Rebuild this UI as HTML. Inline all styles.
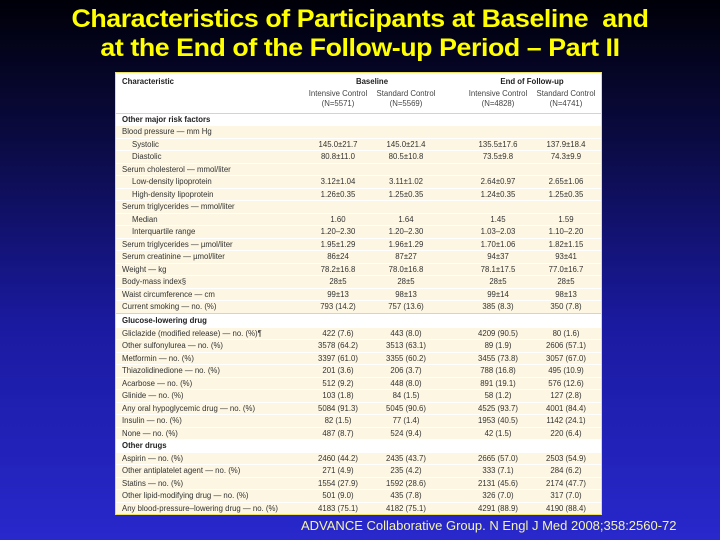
<!DOCTYPE html>
<html><head><meta charset="utf-8"><style>
html,body{margin:0;padding:0}
body{width:720px;height:540px;position:relative;overflow:hidden;background:linear-gradient(to bottom,#000008 0%,#0a0a40 25%,#1a1aa0 60%,#2828cc 100%);font-family:"Liberation Sans",sans-serif}
.t{position:absolute;left:0;width:720px;text-align:center;color:#ffff00;font-weight:bold;font-size:25px;letter-spacing:-0.4px;transform:scaleX(1.07)}
#box{position:absolute;left:115px;top:72px;width:485px;height:441px;background:#fff;border:1px solid #f0e060;font-size:7.8px;color:#333;overflow:hidden}
.row{position:absolute;left:0;width:485px;height:11.5px;line-height:11.5px;background:#fcf6e2;white-space:nowrap}
.row.s{background:#fff;font-weight:bold;color:#222}
.row span{position:absolute;top:0}
.l{left:6px}
.i .l{left:16px}
.c{width:90px;text-align:center;margin-left:-45px}
.hl{position:absolute;left:0;width:485px;height:1.5px;background:#f0e040}
.h{position:absolute;text-align:center;width:100px;margin-left:-50px;line-height:10px;color:#444}
.foot{position:absolute;left:301px;top:518px;color:#f4f4b0;font-size:13px;white-space:nowrap}
</style></head><body>
<div class="t" style="top:5px">Characteristics of Participants at Baseline&nbsp; and</div>
<div class="t" style="top:34px">at the End of the Follow-up Period – Part II</div>
<div id="box">
<div style="position:absolute;left:6px;top:4px;font-weight:bold;color:#222">Characteristic</div>
<div class="h" style="left:256px;top:4px;font-weight:bold;color:#222">Baseline</div>
<div class="h" style="left:416px;top:4px;font-weight:bold;color:#222">End of Follow-up</div>
<div class="h" style="left:222px;top:16px">Intensive Control<br>(N=5571)</div>
<div class="h" style="left:290px;top:16px">Standard Control<br>(N=5569)</div>
<div class="h" style="left:382px;top:16px">Intensive Control<br>(N=4828)</div>
<div class="h" style="left:450px;top:16px">Standard Control<br>(N=4741)</div>
<div class="hl" style="top:39.5px"></div>
<div class="hl" style="top:239.5px"></div>
<div id="rows"></div>
</div>
<div class="foot">ADVANCE Collaborative Group. N Engl J Med 2008;358:2560-72</div>
<script>
(function(){
var R=[
["s","Other major risk factors"],
["","Blood pressure — mm Hg"],
["i","Systolic","145.0±21.7","145.0±21.4","135.5±17.6","137.9±18.4"],
["i","Diastolic","80.8±11.0","80.5±10.8","73.5±9.8","74.3±9.9"],
["","Serum cholesterol — mmol/liter"],
["i","Low-density lipoprotein","3.12±1.04","3.11±1.02","2.64±0.97","2.65±1.06"],
["i","High-density lipoprotein","1.26±0.35","1.25±0.35","1.24±0.35","1.25±0.35"],
["","Serum triglycerides — mmol/liter"],
["i","Median","1.60","1.64","1.45","1.59"],
["i","Interquartile range","1.20–2.30","1.20–2.30","1.03–2.03","1.10–2.20"],
["","Serum triglycerides — µmol/liter","1.95±1.29","1.96±1.29","1.70±1.06","1.82±1.15"],
["","Serum creatinine — µmol/liter","86±24","87±27","94±37","93±41"],
["","Weight — kg","78.2±16.8","78.0±16.8","78.1±17.5","77.0±16.7"],
["","Body-mass index§","28±5","28±5","28±5","28±5"],
["","Waist circumference — cm","99±13","98±13","99±14","98±13"],
["","Current smoking — no. (%)","793 (14.2)","757 (13.6)","385 (8.3)","350 (7.8)"],
["s","Glucose-lowering drug"],
["","Gliclazide (modified release) — no. (%)¶","422 (7.6)","443 (8.0)","4209 (90.5)","80 (1.6)"],
["","Other sulfonylurea — no. (%)","3578 (64.2)","3513 (63.1)","89 (1.9)","2606 (57.1)"],
["","Metformin — no. (%)","3397 (61.0)","3355 (60.2)","3455 (73.8)","3057 (67.0)"],
["","Thiazolidinedione — no. (%)","201 (3.6)","206 (3.7)","788 (16.8)","495 (10.9)"],
["","Acarbose — no. (%)","512 (9.2)","448 (8.0)","891 (19.1)","576 (12.6)"],
["","Glinide — no. (%)","103 (1.8)","84 (1.5)","58 (1.2)","127 (2.8)"],
["","Any oral hypoglycemic drug — no. (%)","5084 (91.3)","5045 (90.6)","4525 (93.7)","4001 (84.4)"],
["","Insulin — no. (%)","82 (1.5)","77 (1.4)","1953 (40.5)","1142 (24.1)"],
["","None — no. (%)","487 (8.7)","524 (9.4)","42 (1.5)","220 (6.4)"],
["s","Other drugs"],
["","Aspirin — no. (%)","2460 (44.2)","2435 (43.7)","2665 (57.0)","2503 (54.9)"],
["","Other antiplatelet agent — no. (%)","271 (4.9)","235 (4.2)","333 (7.1)","284 (6.2)"],
["","Statins — no. (%)","1554 (27.9)","1592 (28.6)","2131 (45.6)","2174 (47.7)"],
["","Other lipid-modifying drug — no. (%)","501 (9.0)","435 (7.8)","326 (7.0)","317 (7.0)"],
["","Any blood-pressure–lowering drug — no. (%)","4183 (75.1)","4182 (75.1)","4291 (88.9)","4190 (88.4)"]];
var X=[222,290,382,450],h="";
for(var k=0;k<R.length;k++){var r=R[k],yy=40+k*12.5+(k>=16?1.5:0);
h+='<div class="row '+r[0]+'" style="top:'+(yy+0.5)+'px"><span class="l">'+r[1]+'</span>';
for(var j=0;j<4;j++)if(r[j+2])h+='<span class="c" style="left:'+X[j]+'px">'+r[j+2]+'</span>';
h+='</div>';}
document.getElementById('rows').innerHTML=h;
})();
</script>
</body></html>
